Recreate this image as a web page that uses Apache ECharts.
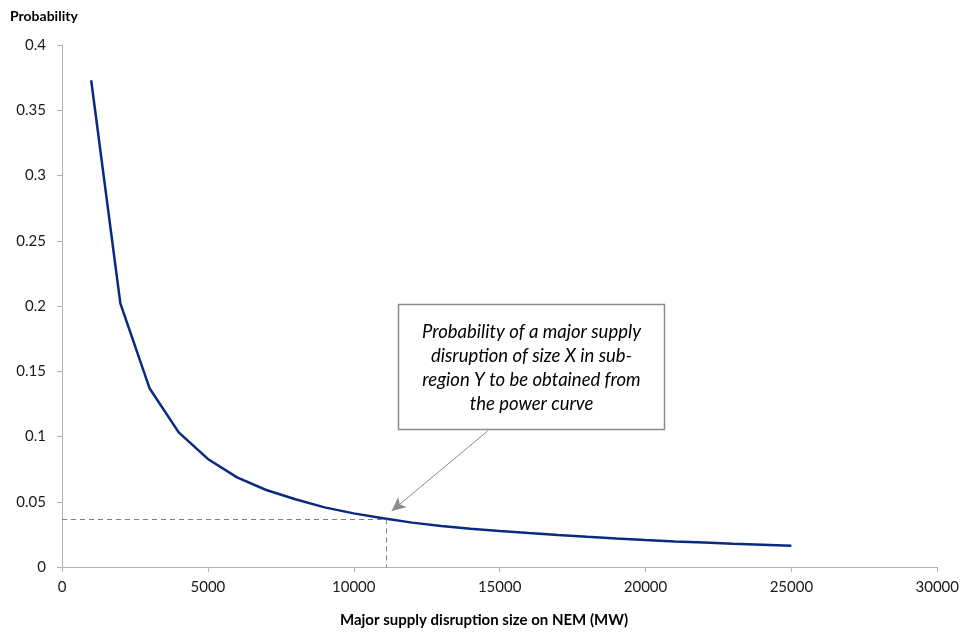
<!DOCTYPE html>
<html><head><meta charset="utf-8">
<script src="https://cdn.jsdelivr.net/npm/echarts@6/dist/echarts.min.js"></script>
<style>html,body{margin:0;padding:0;background:#fff}#c{width:962px;height:633px}</style>
</head><body><div id="c"></div>
<script>
const sizes = [1000,2000,3000,4000,5000,6000,7000,8000,9000,10000,11000,12000,13000,14000,15000,16000,17000,18000,19000,20000,21000,22000,23000,24000,25000];
const probs = [0.373,0.202,0.137,0.1032,0.0828,0.0687,0.059,0.0519,0.0457,0.0411,0.0373,0.034,0.0314,0.0293,0.0276,0.026,0.0245,0.0231,0.0218,0.0206,0.0196,0.0187,0.0178,0.017,0.0162];
const refX = 11100;
const refY = 0.0365;
const arrowFrom = [14590, 0.1042];
const arrowTo = [11300, 0.0429];
const annotationLines = ['Probability of a major supply','disruption of size X in sub-','region Y to be obtained from','the power curve'];
const yTitle = 'Probability';
const xTitle = 'Major supply disruption size on NEM (MW)';

const font = 'Lato, "Open Sans", sans-serif';
const chart = echarts.init(document.getElementById('c'), null, {renderer:'canvas'});
chart.setOption({
  animation:false,
  textStyle:{fontFamily:font},
  grid:{left:62,right:24,top:45,bottom:66,containLabel:false},
  xAxis:{type:'value',min:0,max:30000,interval:5000,
    axisLine:{lineStyle:{color:'#b3b3b3',width:1}},
    axisTick:{show:true,length:5,lineStyle:{color:'#b3b3b3'}},
    splitLine:{show:false},
    axisLabel:{color:'#1a1a1a',fontSize:15,margin:13,fontFamily:font,formatter:v=>String(v)}},
  yAxis:{type:'value',min:0,max:0.4,interval:0.05,
    axisLine:{show:true,lineStyle:{color:'#b3b3b3',width:1}},
    axisTick:{show:true,length:5,lineStyle:{color:'#b3b3b3'}},
    splitLine:{show:false},
    axisLabel:{color:'#1a1a1a',fontSize:15,margin:16,fontFamily:font}},
  series:[{
    type:'line',
    data:sizes.map((s,i)=>[s,probs[i]]),
    symbol:'none',
    lineStyle:{color:'#0a2a80',width:2.5},
    markLine:{silent:true,symbol:['none','none'],label:{show:false},
      data:[
        [{coord:[0,refY],lineStyle:{type:[5,4],color:'#7f7f7f',width:1}},{coord:[refX,refY]}],
        [{coord:[refX,refY],lineStyle:{type:[5,4],color:'#7f7f7f',width:1}},{coord:[refX,0]}],
        [{coord:arrowFrom,symbol:'none',lineStyle:{type:'solid',color:'#8c8c8c',width:1}},{coord:arrowTo,symbol:'arrow',symbolSize:[10,14]}]
      ]}
  }],
  graphic:[
    {type:'text',left:10,top:9,style:{text:yTitle,font:'bold 14px '+font,fill:'#000'}},
    {type:'text',x:484,y:613,style:{text:xTitle,font:'bold 15px '+font,fill:'#000',align:'center',textAlign:'center'}},
    {type:'rect',shape:{x:398.5,y:304.5,width:266,height:125},style:{fill:'#fff',stroke:'#8c8c8c',lineWidth:1.5},z:10},
    {type:'text',x:531.5,y:320,z:11,style:{text:annotationLines.join('\n'),font:'italic 18.5px '+font,fill:'#000',align:'center',textAlign:'center',lineHeight:24}}
  ]
});
</script></body></html>
